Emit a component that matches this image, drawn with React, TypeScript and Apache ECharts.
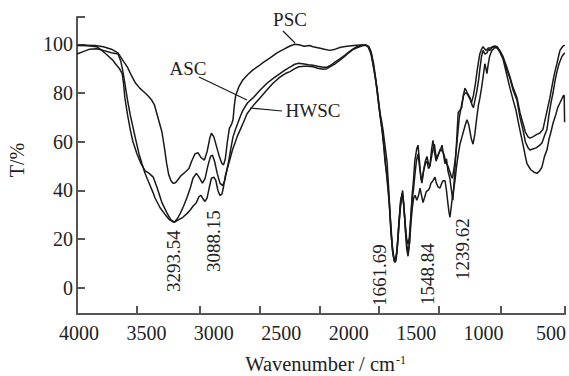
import React, { useEffect, useRef } from 'react';
import * as echarts from 'echarts';

const xTickLabels = [4000, 3500, 3000, 2500, 2000, 1500, 1000, 500];
const xTickMarks = [3570, 3103, 2658, 2213, 1776, 1331, 871, 396];
const yTickLabels = [0, 20, 40, 60, 80, 100];
const xMin = 396;
const xMax = 4015;
const yMin = -10.7;
const yMax = 111.2;

const seriesNames = ['PSC', 'ASC', 'HWSC'];

const psc = [[4015,99.5],[3950,99.6],[3880,99.5],[3820,99],[3760,98],[3711,96.5],[3670,93],[3640,90.5],[3610,87],[3580,84],[3550,82],[3520,80.5],[3490,79],[3460,77],[3440,75],[3420,71],[3400,67],[3385,64],[3365,57],[3350,51],[3335,46.5],[3318,44],[3303,43],[3285,43.2],[3265,44.5],[3245,46],[3214,47.5],[3185,49],[3165,52],[3140,55],[3118,55.5],[3095,53.5],[3070,52.5],[3050,56],[3030,61.5],[3018,63.5],[3000,62],[2980,58],[2960,54],[2940,51],[2928,50.5],[2915,53],[2900,60],[2885,65.5],[2870,67],[2858,69],[2848,75],[2838,79],[2815,82.5],[2790,85],[2750,87.5],[2710,89.5],[2670,91],[2636,92.5],[2580,94.5],[2532,96.5],[2480,98],[2436,99.3],[2400,100],[2370,99.8],[2330,99.2],[2290,99.5],[2265,99],[2220,98.5],[2180,98],[2139,97.5],[2100,98],[2060,98.8],[2013,99.2],[1960,99.5],[1916,99.7],[1870,99.7],[1850,99],[1835,97],[1820,92],[1805,87],[1790,82],[1768,72],[1755,68],[1746,65],[1730,58],[1716,52],[1705,42],[1695,32],[1685,22],[1672,14],[1660,10.5],[1650,11],[1640,16],[1628,26],[1615,35],[1600,40],[1590,33],[1580,24],[1570,16],[1560,13],[1550,18],[1540,28],[1530,38],[1520,44],[1510,52],[1496,57],[1486,58.6],[1475,52],[1465,45],[1457,43],[1445,48],[1432,51],[1420,52],[1408,49],[1398,50],[1385,57],[1375,60.6],[1365,56],[1352,52],[1340,54],[1325,56],[1308,58.6],[1295,54],[1286,51],[1275,53],[1264,48],[1250,45],[1238,40],[1227,36],[1218,44],[1205,55],[1195,65],[1188,72],[1175,73],[1162,74],[1150,79],[1138,82],[1120,80],[1100,78],[1085,75],[1075,74],[1060,78],[1049,81],[1035,86],[1027,90],[1015,95],[1004,97.5],[990,96],[975,96.5],[962,98],[952,97.5],[935,99],[915,99.3],[900,99],[880,97.5],[856,95],[830,91],[804,86.6],[780,82],[752,78],[730,72],[708,67.6],[690,64],[670,62],[656,61.5],[635,62],[605,63],[582,63.6],[560,65],[540,70],[520,75],[508,78],[485,85],[470,89],[456,92],[440,96],[433,97.5],[415,99],[398,99.7]];

const asc = [[4015,99.6],[3950,99.5],[3870,99],[3830,97.5],[3800,96],[3780,95],[3750,93.5],[3730,92],[3700,90],[3680,88],[3670,84],[3660,78],[3640,71],[3620,65],[3600,60],[3570,55],[3540,51],[3510,48],[3480,47],[3450,45.5],[3420,41],[3385,35],[3350,31],[3320,28],[3293,27],[3270,28.5],[3250,30.5],[3225,33.5],[3200,37],[3175,41],[3155,45],[3130,47],[3110,45.5],[3085,43],[3065,45],[3045,50],[3025,54],[3010,54.5],[2995,52],[2975,47],[2955,43],[2935,42],[2920,44],[2905,48],[2890,52],[2875,57],[2858,62],[2840,65],[2820,68],[2800,71],[2784,73],[2750,76],[2710,78],[2660,81],[2606,84],[2560,86],[2510,88],[2470,89.5],[2436,90.6],[2400,91.8],[2370,92.2],[2330,91.9],[2300,91.6],[2265,91.4],[2230,91],[2190,90.6],[2161,90.6],[2130,91.5],[2100,92.8],[2065,94],[2030,95.5],[2000,96.8],[1970,98],[1939,99],[1900,99.6],[1870,99.6],[1850,98.8],[1830,96],[1815,92],[1800,86],[1783,78],[1768,71],[1753,65],[1740,58],[1731,52],[1720,47],[1710,41],[1700,35],[1688,24],[1675,15],[1662,11],[1650,12],[1640,17],[1628,27],[1615,36],[1602,39],[1592,34],[1580,26],[1570,20],[1560,18],[1550,21],[1540,29],[1530,36],[1520,40],[1510,46],[1498,52],[1486,55],[1475,50],[1465,46],[1457,44],[1445,48],[1432,52],[1420,54],[1408,51],[1398,50],[1385,54],[1375,57],[1365,59],[1355,55],[1346,53],[1335,55],[1320,57],[1305,56],[1295,55],[1286,53],[1275,51],[1264,50],[1252,48],[1240,46],[1232,45],[1222,48],[1212,52],[1200,58],[1190,64],[1180,70],[1170,73],[1160,76],[1148,79],[1138,80],[1125,80],[1115,79],[1100,77.5],[1090,76],[1075,79],[1060,84],[1048,89],[1040,92],[1028,96],[1015,98],[1004,99],[990,98],[980,97.5],[965,98.5],[950,98.5],[920,99],[900,98.5],[880,97],[856,94.5],[830,90],[804,86],[780,81],[752,77],[730,70],[708,65],[690,60],[670,57.5],[656,56.6],[635,57],[610,57.5],[585,58.5],[567,59.5],[545,63],[530,65],[515,71],[500,76],[485,80],[470,85],[455,89],[440,92],[419,95],[398,96.5]];

const hwsc = [[4015,96],[3970,97],[3920,98],[3870,98.2],[3820,97.5],[3760,96.5],[3711,96],[3690,93],[3675,89],[3660,84],[3640,77],[3620,71],[3600,66],[3580,61],[3555,55],[3533,51],[3510,47],[3480,43],[3450,39],[3437,37],[3400,33],[3360,30],[3330,28],[3300,27],[3285,27.2],[3260,28],[3230,29],[3200,30.5],[3175,32],[3155,33.5],[3130,35],[3110,37.5],[3095,38],[3080,36.5],[3065,35.5],[3050,37],[3035,41],[3018,45],[3000,45.5],[2985,44],[2970,40],[2955,38],[2940,38.5],[2930,41],[2915,46],[2900,49],[2885,52],[2860,57],[2840,60],[2828,62],[2800,65.5],[2780,68],[2754,71.5],[2720,74],[2690,76],[2658,78],[2610,81],[2562,84],[2510,86.5],[2470,88],[2436,88.8],[2400,90],[2370,90.8],[2330,91],[2300,91],[2265,90.8],[2230,90.2],[2190,89.8],[2161,90],[2130,91],[2100,92],[2065,93.5],[2030,95],[2000,96.5],[1970,97.8],[1939,98.6],[1900,99.4],[1875,99.6],[1855,98.8],[1835,96],[1820,92],[1805,87],[1790,81],[1775,74],[1760,68],[1748,63],[1735,56],[1725,50],[1712,44],[1700,36],[1688,26],[1676,17],[1664,12],[1655,11.5],[1645,14],[1632,22],[1620,31],[1608,37],[1598,38],[1588,31],[1578,23],[1568,17],[1558,15],[1548,19],[1538,27],[1528,33],[1518,37],[1508,38],[1495,36],[1482,38],[1471,41],[1460,38],[1449,35],[1438,37],[1425,39.5],[1412,40],[1400,41],[1390,43],[1375,44],[1360,45.5],[1350,43],[1338,41.5],[1323,41],[1310,43],[1300,44],[1286,44],[1275,40],[1265,35],[1256,31],[1249,29],[1240,33],[1230,38],[1220,41],[1212,44],[1200,50],[1190,54],[1175,59],[1160,62],[1150,64],[1135,67],[1123,69],[1110,67],[1100,64],[1090,61],[1078,59],[1065,63],[1050,70],[1038,75],[1027,78],[1015,82],[1005,86],[995,90],[990,92],[982,90],[975,88],[965,92],[955,95],[945,96.5],[937,97.5],[920,98.5],[900,99],[880,97],[856,94],[830,88],[804,82],[780,77],[760,73],[735,66],[708,59],[690,54],[678,51],[650,48.5],[625,47.5],[604,47],[585,48],[567,49.6],[548,54],[530,56.6],[515,61],[500,64],[485,67.6],[465,71],[450,74],[433,76],[420,77.5],[408,79],[402,79],[399,68]];

const peakLabels = ['3293.54', '3088.15', '1661.69', '1548.84', '1239.62'];
const xTitle = 'Wavenumber / cm';
const xTitleSup = '-1';
const yTitle = 'T/%';

export default function App() {
  const ref = useRef<HTMLDivElement>(null);
  useEffect(() => {
    document.body.style.margin = '0';
    const chart = echarts.init(ref.current!, null, { renderer: 'svg' });
    const font = "'Liberation Serif','Times New Roman',serif";
    const ink = '#1a1a1a';
    const axisColor = '#555';
    const mk = (name: string, data: number[][]) => ({
      type: 'line', name, data, showSymbol: false, symbol: 'none', silent: true,
      lineStyle: { color: ink, width: 1.5 }, itemStyle: { color: ink },
    });
    const peakPos = [[173, 261], [213, 241], [379, 275], [427, 274], [462, 249]];
    const txt = (text: string, x: number, y: number, rot = 0, size = 19, align = 'center') => ({
      type: 'text', x, y, rotation: rot, silent: true,
      style: { text, fill: '#222', font: `${size}px ${font}`, align, verticalAlign: 'middle' },
    });
    const ln = (x1: number, y1: number, x2: number, y2: number) => ({
      type: 'line', silent: true, shape: { x1, y1, x2, y2 }, style: { stroke: ink, lineWidth: 1.2 },
    });
    chart.setOption({
      animation: false,
      grid: { left: 77, right: 4, top: 17, bottom: 62, containLabel: false, outerBoundsMode: 'none' },
      xAxis: {
        type: 'value', inverse: true, min: xMin, max: xMax,
        splitLine: { show: false },
        axisLine: { show: true, onZero: false, lineStyle: { color: axisColor, width: 2 } },
        axisTick: { show: true, inside: true, length: 8, customValues: xTickMarks, lineStyle: { color: axisColor, width: 2 } },
        axisLabel: { customValues: xTickLabels, margin: 9, color: '#222', fontSize: 20, fontFamily: font, formatter: (v: number) => String(v) },
      },
      yAxis: {
        type: 'value', min: yMin, max: yMax,
        splitLine: { show: false },
        axisLine: { show: true, onZero: false, lineStyle: { color: axisColor, width: 2 } },
        axisTick: { show: true, inside: true, length: 8, customValues: [...yTickLabels, yMax], lineStyle: { color: axisColor, width: 2 } },
        axisLabel: { customValues: yTickLabels, margin: 4, color: '#222', fontSize: 20, fontFamily: font, formatter: (v: number) => String(v) },
      },
      series: [mk(seriesNames[0], psc), mk(seriesNames[1], asc), mk(seriesNames[2], hwsc)],
      graphic: [
        txt(yTitle, 17, 160, Math.PI / 2, 20),
        txt(xTitle, 395, 364, 0, 20.5, 'right'),
        txt(xTitleSup, 396, 360, 0, 12, 'left'),
        ...peakLabels.map((l, i) => txt(l, peakPos[i][0], peakPos[i][1], Math.PI / 2)),
        txt(seriesNames[0], 290, 19),
        ln(283, 31, 295, 43),
        txt(seriesNames[1], 188, 68),
        ln(199, 77, 247, 100),
        txt(seriesNames[2], 313, 110),
        ln(250, 108, 282, 111),
      ],
    });
    return () => chart.dispose();
  }, []);
  return <div ref={ref} style={{ width: 569, height: 376 }} />;
}
